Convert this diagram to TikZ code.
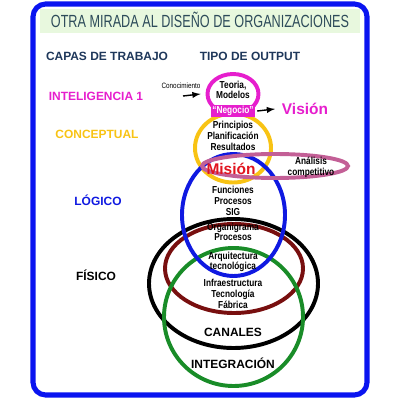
\documentclass[tikz,border=0pt]{standalone}
\usepackage{fontspec}
\setmainfont{Liberation Sans}
\newfontfamily\narrowfont[FakeStretch=0.82]{Liberation Sans}
\newfontfamily\titlefont[FakeStretch=0.72]{Liberation Sans}
\usetikzlibrary{shapes.geometric}

\definecolor{marco}{RGB}{10,20,240}
\definecolor{fondotitulo}{RGB}{232,248,222}
\definecolor{titulotexto}{RGB}{45,75,90}
\definecolor{capatexto}{RGB}{30,55,90}
\definecolor{magenta1}{RGB}{230,30,205}
\definecolor{amarillo}{RGB}{248,195,20}
\definecolor{azul}{RGB}{15,25,225}
\definecolor{malva}{RGB}{195,95,150}
\definecolor{rojo}{RGB}{225,20,30}
\definecolor{granate}{RGB}{120,15,15}
\definecolor{verde}{RGB}{25,140,40}

\newcommand{\pix}{0.025cm}

\begin{document}
\begin{tikzpicture}[x=0.025cm, y=-0.025cm,
    anillo/.style={ellipse, draw, line width=2.8pt, inner sep=0pt},
    capa/.style={font=\bfseries\fontsize{8.5}{10}\selectfont},
    dentro/.style={font=\narrowfont\bfseries\fontsize{7.2}{7.6}\selectfont, align=center}]
    \useasboundingbox (0,0) rectangle (400,400);

    % 枠とタイトル
    \draw[marco, line width=3.6pt, rounded corners=9pt] (33,4) rectangle (367,395);
    \fill[fondotitulo] (40,9) rectangle (360,33);
    \node[font=\titlefont\fontsize{12.5}{14}\selectfont, text=titulotexto] (titulo) at (200,20) {OTRA MIRADA AL DISEÑO DE ORGANIZACIONES};

    \node[capa, text=capatexto] (capas) at (107,56) {CAPAS DE TRABAJO};
    \node[capa, text=capatexto] (tipo) at (250,56) {TIPO DE OUTPUT};

    % 左の層
    \node[capa, text=magenta1] (intel) at (96,96) {INTELIGENCIA 1};
    \node[capa, text=amarillo] (concep) at (97,134) {CONCEPTUAL};
    \node[capa, text=azul] (logico) at (98,200) {LÓGICO};
    \node[capa, text=black] (fisico) at (96,275) {FÍSICO};

    % 円を描く
    \node[anillo, amarillo, minimum width=76*\pix, minimum height=69*\pix] (conceptual) at (233,148) {};
    \node[anillo, magenta1, minimum width=51*\pix, minimum height=40*\pix] (inteligencia) at (233,94) {};
    \node[anillo, black, minimum width=169*\pix, minimum height=129*\pix] (canales) at (233.5,283.5) {};
    \node[anillo, granate, minimum width=138*\pix, minimum height=89*\pix] (organig) at (234,268.5) {};
    \node[anillo, verde, minimum width=139*\pix, minimum height=138*\pix] (integracion) at (233.5,317) {};
    \node[anillo, azul, minimum width=103*\pix, minimum height=122*\pix] (logic) at (233.5,215) {};
    \node[anillo, malva, minimum width=146*\pix, minimum height=24*\pix] (mision) at (275,166) {};

    % 値を入れる
    \node[dentro] (teoria) at (233,90) {Teoria,\\Modelos};
    \node[dentro, fill=magenta1, text=white, inner sep=1pt] (negocio) at (233,111) {“Negocio”};
    \node[dentro] (principios) at (233,136) {Principios\\Planificación\\Resultados};
    \node[font=\bfseries\fontsize{11}{12}\selectfont, text=rojo] (mistxt) at (231,169) {Misión};
    \node[dentro] (analisis) at (311,167) {Análisis\\competitivo};
    \node[dentro] (funciones) at (233,201) {Funciones\\Procesos\\SIG};
    \node[dentro] (organigrama) at (233,232) {Organigrama\\Procesos};
    \node[dentro] (arquitectura) at (233,262) {Arquitectura\\tecnológica};
    \node[dentro] (infra) at (233,294) {Infraestructura\\Tecnología\\Fábrica};
    \node[capa] (canal) at (233,332) {CANALES};
    \node[capa] (integ) at (233,363) {INTEGRACIÓN};

    \node[font=\narrowfont\fontsize{5.5}{6}\selectfont] (conoc) at (181,86) {Conocimiento};
    \node[font=\bfseries\fontsize{11}{12}\selectfont, text=magenta1] (vision) at (305,109) {Visión};

    % 矢印
    \coordinate (c1) at (183,96);
    \draw[-latex, line width=1pt] (c1) -- ([xshift=-5*\pix]inteligencia.west);
    \draw[-latex, line width=1pt] ([xshift=2*\pix]negocio.east) -- ([xshift=-2*\pix]vision.west);
\end{tikzpicture}
\end{document}
